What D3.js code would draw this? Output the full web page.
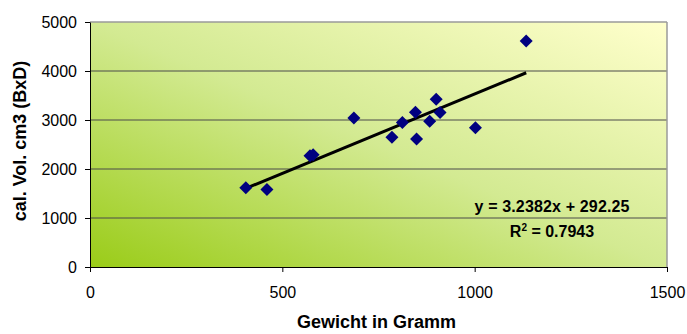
<!DOCTYPE html>
<html>
<head>
<meta charset="utf-8">
<script src="https://cdn.jsdelivr.net/npm/d3@7"></script>
<style>
  body { margin: 0; background: #fff; }
  svg { display: block; font-family: Arial, "Liberation Sans", sans-serif; }
  .axis path, .axis line { stroke: #000; }
  .axis text { font-size: 16px; fill: #000; }
</style>
</head>
<body>
<svg id="chart" width="687" height="334"></svg>
<script>
// weight (g) vs calculated volume (cm3)
const weights = [405, 460, 572, 580, 686, 785, 812, 846, 849, 883, 900, 910, 1002, 1134];
const volumes = [1617, 1583, 2271, 2292, 3042, 2647, 2947, 3158, 2612, 2974, 3424, 3151, 2844, 4611];

const xTicks = [0, 500, 1000, 1500];
const yTicks = [0, 1000, 2000, 3000, 4000, 5000];
const gridTicks = [1000, 2000, 3000, 4000];

// linear trend as printed on the chart
const slope = 3.2382;
const intercept = 292.25;
const eqText = "y = 3.2382x + 292.25";
const r2Value = "0.7943";

const svg    = d3.select("#chart"),
      margin = {top: 22, right: 20, bottom: 67, left: 90},
      width  = +svg.attr("width")  - margin.left - margin.right,
      height = +svg.attr("height") - margin.top  - margin.bottom,
      x      = d3.scaleLinear().domain([0, 1500]).range([0, width]),
      y      = d3.scaleLinear().domain([0, 5000]).range([height, 0]),
      g      = svg.append("g").attr("transform", `translate(${margin.left},${margin.top})`);

// plot area background gradient (bottom-left green -> top-right pale yellow)
const defs = svg.append("defs");
const grad = defs.append("linearGradient")
    .attr("id", "bg")
    .attr("x1", 0).attr("y1", 1)
    .attr("x2", 1).attr("y2", 0);
grad.append("stop").attr("offset", "0%").attr("stop-color", "#9acc18");
grad.append("stop").attr("offset", "50%").attr("stop-color", "#d3ea92");
grad.append("stop").attr("offset", "100%").attr("stop-color", "#ffffcc");

g.append("rect")
  .attr("width", width)
  .attr("height", height)
  .attr("fill", "url(#bg)");

// horizontal grid
g.selectAll(".grid")
  .data(gridTicks)
  .enter().append("line")
    .attr("class", "grid")
    .attr("x1", 0).attr("x2", width)
    .attr("y1", d => y(d)).attr("y2", d => y(d))
    .attr("stroke", "#4a4a4a")
    .attr("stroke-width", 1);

// top and right frame
g.append("line")
  .attr("x1", 0).attr("x2", width).attr("y1", y(5000)).attr("y2", y(5000))
  .attr("stroke", "#9a9a9a").attr("stroke-width", 1.5);
g.append("line")
  .attr("x1", x(1500)).attr("x2", x(1500)).attr("y1", 0).attr("y2", height)
  .attr("stroke", "#9a9a9a").attr("stroke-width", 1.5);

g.append("g")
    .attr("class", "axis axis-x")
    .attr("transform", `translate(0,${height})`)
    .call(d3.axisBottom(x).tickValues(xTicks).tickFormat(d3.format("d"))
      .tickSize(5).tickPadding(15).tickSizeOuter(0));

g.append("g")
    .attr("class", "axis axis-y")
    .call(d3.axisLeft(y).tickValues(yTicks).tickFormat(d3.format("d"))
      .tickSize(5).tickPadding(8).tickSizeOuter(0));

// trend line over the data range
const xr = d3.extent(weights);
g.append("line")
  .attr("x1", x(xr[0])).attr("y1", y(slope * xr[0] + intercept))
  .attr("x2", x(xr[1])).attr("y2", y(slope * xr[1] + intercept))
  .attr("stroke", "#000")
  .attr("stroke-width", 3);

// diamond markers
const pts = weights.map((w, i) => ({w: w, v: volumes[i]}));
g.selectAll(".pt")
  .data(pts)
  .enter().append("path")
    .attr("class", "pt")
    .attr("transform", d => `translate(${x(d.w)},${y(d.v)})`)
    .attr("d", "M0,-6.5L6.5,0L0,6.5L-6.5,0Z")
    .attr("fill", "#000080");

// equation + R2
const eq = svg.append("g")
    .style("font-size", "16px")
    .style("font-weight", "bold")
    .attr("text-anchor", "middle");
eq.append("text")
  .attr("x", 552).attr("y", 212)
  .attr("textLength", 155)
  .text(eqText);
const r2 = eq.append("text").attr("x", 552).attr("y", 237);
r2.append("tspan").text("R");
r2.append("tspan").attr("dy", -6).style("font-size", "10px").text("2");
r2.append("tspan").attr("dy", 6).text(" = " + r2Value);

// axis titles
svg.append("text")
   .attr("x", margin.left + width / 2 - 2)
   .attr("y", 328)
   .attr("text-anchor", "middle")
   .style("font-size", "18px")
   .style("font-weight", "bold")
   .text("Gewicht in Gramm");
svg.append("text")
   .attr("transform", "rotate(-90)")
   .attr("x", -141)
   .attr("y", 26)
   .attr("text-anchor", "middle")
   .style("font-size", "18px")
   .style("font-weight", "bold")
   .text("cal. Vol. cm3 (BxD)");
</script>
</body>
</html>
